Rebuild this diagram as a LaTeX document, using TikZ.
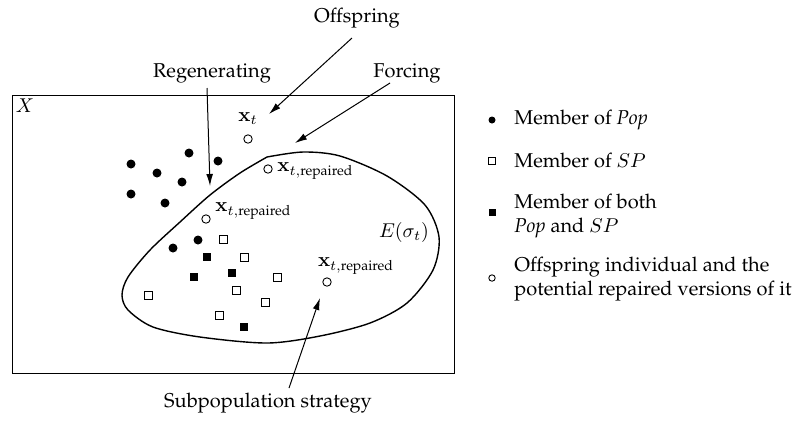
\documentclass[tikz,border=0pt]{standalone}
\usepackage[T1]{fontenc}
\usepackage{palatino}
\usepackage{amsmath}
\usepackage{xcolor}
\usepackage{tikz}
\usetikzlibrary{positioning}
\usetikzlibrary{arrows.meta}

\begin{document}
\begin{tikzpicture}[
  x=0.5pt, y=-0.5pt,
popdot/.style={
  circle,
  fill=black,
  inner sep=0pt,
  minimum size=4.5pt
},
spbox/.style={
  rectangle,
  draw=black,
  fill=white,
  line width=0.45pt,
  inner sep=0pt,
  minimum size=4pt
},
bothbox/.style={
  rectangle,
  fill=black,
  inner sep=0pt,
  minimum size=4.2pt
},
kiddot/.style={
  circle,
  draw=black,
  fill=white,
  line width=0.45pt,
  inner sep=0pt,
  minimum size=4.2pt
},
  txt/.style={inner sep=1pt},
  legtxt/.style={anchor=west, align=left, inner sep=1pt},
  arr/.style={-{Latex[length=6pt,width=3.4pt]}, line width=0.5pt}
]
\useasboundingbox (0,0) rectangle (801,420);

% ---- search space ----
\draw[line width=0.5pt] (12,95) rectangle (454,373);
\node[txt] (xspace) at (25,106) {$X$};

% ---- feasible region ----
\draw[line width=0.7pt] plot[smooth] coordinates {
  (267,157) (303,152) (340,156) (387,176) (425,205) (439,237) (433,270)
  (407,303) (370,323) (320,336) (267,343) (200,337) (153,327) (128,310)
  (122,295) (128,277) (150,250) (180,222) (210,195) (240,173) (267,157)};
\node[txt] (esig) at (404,232) {$E(\sigma_t)$};

% ---- Pop ----
\node[popdot] (p1) at (131,164) {};
\node[popdot] (p2) at (189,153) {};
\node[popdot] (p3) at (157,173) {};
\node[popdot] (p4) at (218,161) {};
\node[popdot] (p5) at (182,182) {};
\node[popdot] (p6) at (131,194) {};
\node[popdot] (p7) at (165,203) {};
\node[popdot] (p8) at (198,240) {};
\node[popdot] (p9) at (173,248) {};

% ---- SP ----
\node[spbox] (s1) at (223,239) {};
\node[spbox] (s2) at (244,257) {};
\node[spbox] (s3) at (277,277) {};
\node[spbox] (s4) at (148,295) {};
\node[spbox] (s5) at (236,290) {};
\node[spbox] (s6) at (265,302) {};
\node[spbox] (s7) at (219,315) {};

% ---- Pop and SP ----
\node[bothbox] (b1) at (207,257) {};
\node[bothbox] (b2) at (194,277) {};
\node[bothbox] (b3) at (232,273) {};
\node[bothbox] (b4) at (244,327) {};

% ---- offspring and repaired versions ----
\node[txt] (xt) at (248,119) {$\mathbf{x}_t$};
\node[kiddot] (k0) at (248,139) {};
\node[kiddot] (k1) at (268,169) {};
\node[txt, anchor=west] (xr1) at (275,171) {$\mathbf{x}_{t,\text{repaired}}$};
\node[kiddot] (k2) at (206,219) {};
\node[txt, anchor=west] (xr2) at (213,211) {$\mathbf{x}_{t,\text{repaired}}$};
\node[kiddot] (k3) at (327,282) {};
\node[txt] (xr3) at (356,266) {$\mathbf{x}_{t,\text{repaired}}$};

% ---- strategies ----
\node[txt] (offlbl) at (357,18) {Offspring};
\node[txt] (reglbl) at (212,73) {Regenerating};
\node[txt] (forlbl) at (407,73) {Forcing};
\node[txt] (sublbl) at (268,403) {Subpopulation strategy};

\coordinate (offtail) at (352,38);
\coordinate (offtip) at (269,114);
\coordinate (regtail) at (207,88);
\coordinate (regtip) at (210,186);
\coordinate (fortail) at (390,83);
\coordinate (fortip) at (295,143);
\coordinate (subtail) at (289,388);
\coordinate (subtip) at (320,298);

\draw[arr] (offtail) -- (offtip);
\draw[arr] (regtail) -- (regtip);
\draw[arr] (fortail) -- (fortip);
\draw[arr] (subtail) -- (subtip);

% ---- legend ----
\node[popdot, minimum size=3.5pt] (lpop) at (492,120) {};
\node[legtxt] (tpop) at (512,120) {Member of \textit{Pop}};
\node[spbox, minimum size=3.1pt] (lsp) at (492,161) {};
\node[legtxt] (tsp) at (512,160) {Member of $SP$};
\node[bothbox, minimum size=3.5pt] (lboth) at (492,212) {};
\node[legtxt] (tboth) at (512,216) {Member of both\\\textit{Pop} and $SP$};
\node[kiddot, minimum size=3.2pt] (lkid) at (492,278) {};
\node[legtxt] (tkid) at (512,279) {Offspring individual and the\\potential repaired versions of it};

\end{tikzpicture}
\end{document}
